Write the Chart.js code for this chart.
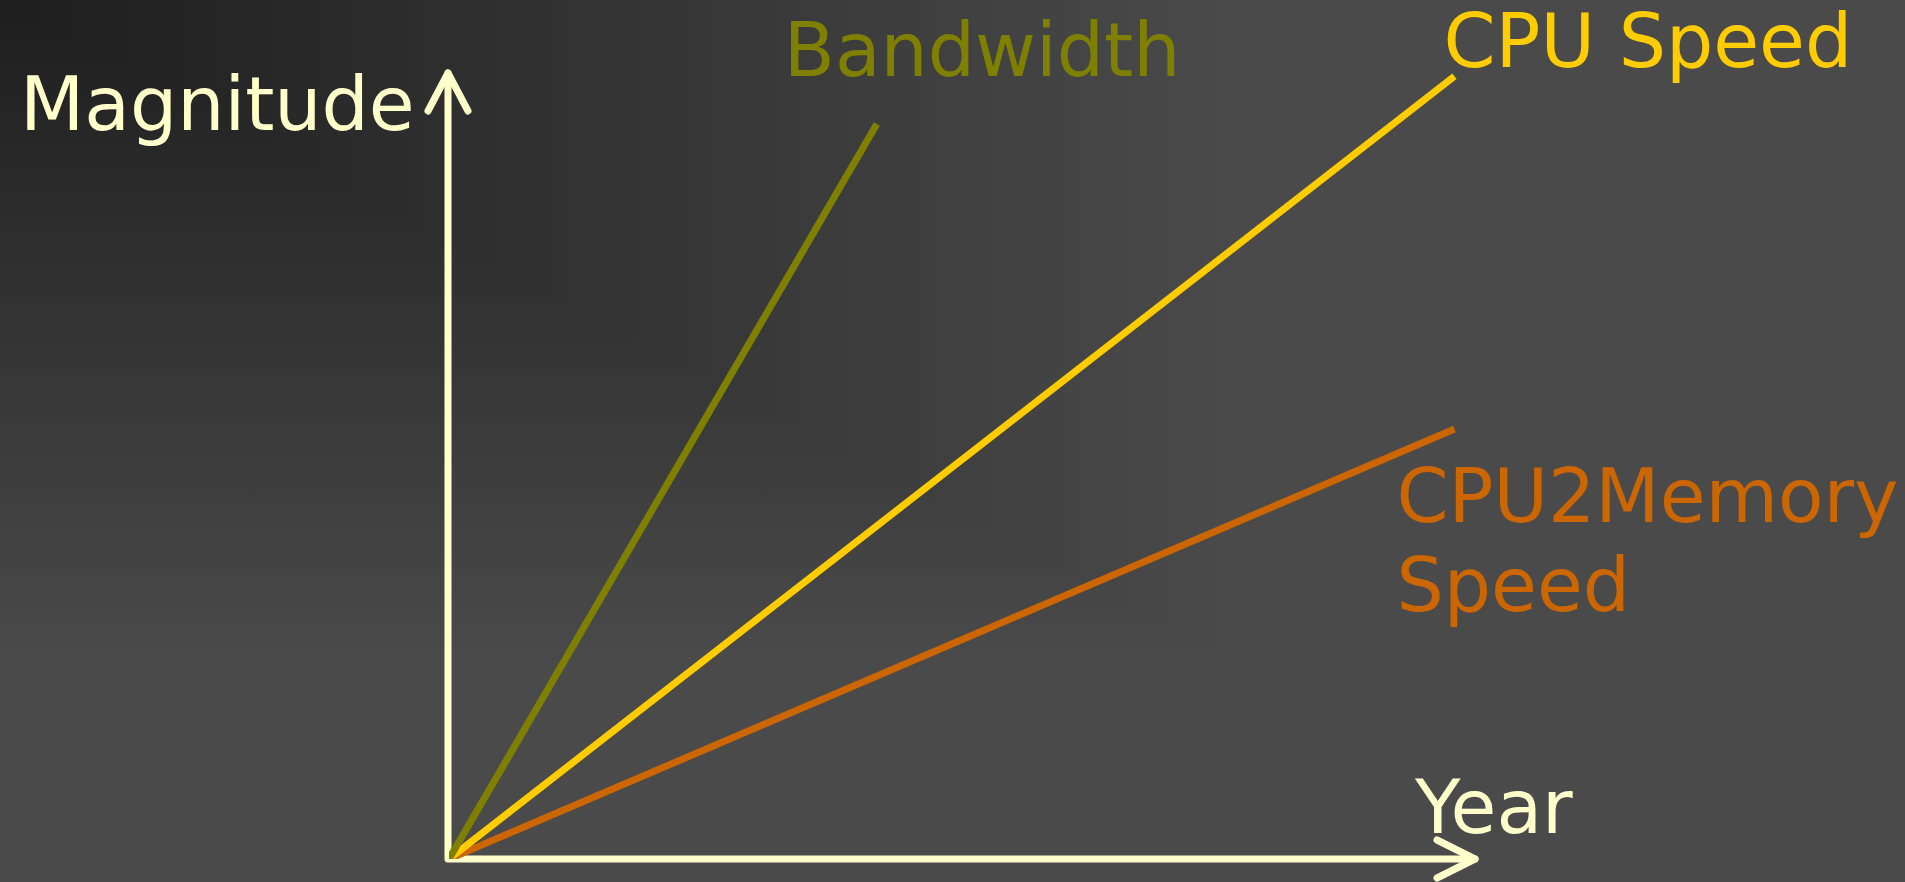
<!DOCTYPE html>
<html>
<head>
<meta charset="utf-8">
<script src="https://cdn.jsdelivr.net/npm/chart.js@4"></script>
<style>
  html, body { margin: 0; padding: 0; overflow: hidden; }
  body {
    width: 1905px; height: 882px;
    background-image:
      linear-gradient(to right, #1e1e1e 0%, #4a4a4a 65%),
      linear-gradient(to bottom, #1e1e1e 0%, #4a4a4a 75%);
    background-blend-mode: lighten;
  }
  #wrap { position: relative; width: 1905px; height: 882px; }
</style>
</head>
<body>
<div id="wrap"><canvas id="chart"></canvas></div>
<script>
// series: [start, end] of each trend, as {Year, Magnitude}
const seriesNames = ["Bandwidth", "CPU Speed", "CPU2Memory Speed"];
const bandwidthX = [0, 41.7];
const bandwidthY = [0, 93.5];
const cpuSpeedX = [0, 98];
const cpuSpeedY = [0, 99.6];
const cpuMemX = [0, 98];
const cpuMemY = [0, 54.7];
const axisTitles = ["Year", "Magnitude"];

const axisColor = "#ffffcc";
const font = "74.5px 'DejaVu Sans'";

function pts(xs, ys) {
  return xs.map((x, i) => ({ x, y: ys[i] }));
}

// axes with arrows + text labels
const decor = {
  id: "decor",
  beforeDatasetsDraw(chart) {
    const ctx = chart.ctx;
    const x = chart.scales.x, y = chart.scales.y;
    const x0 = x.getPixelForValue(0), x1 = x.getPixelForValue(x.max);
    const y0 = y.getPixelForValue(0), y1 = y.getPixelForValue(y.max);
    ctx.save();
    ctx.strokeStyle = axisColor;
    ctx.lineWidth = 7;
    ctx.lineCap = "round";
    ctx.lineJoin = "round";
    ctx.beginPath();
    ctx.moveTo(x0 - 1, y1);
    ctx.lineTo(x0 - 1, y0);
    ctx.lineTo(x1, y0);
    ctx.stroke();
    // arrowheads
    ctx.beginPath();
    ctx.moveTo(x0 - 21, y1 + 38);
    ctx.lineTo(x0 - 1, y1);
    ctx.lineTo(x0 + 19, y1 + 38);
    ctx.moveTo(x1 - 38, y0 - 19);
    ctx.lineTo(x1, y0);
    ctx.lineTo(x1 - 38, y0 + 19);
    ctx.stroke();
    ctx.restore();
  },
  afterDatasetsDraw(chart) {
    const ctx = chart.ctx;
    const x = chart.scales.x, y = chart.scales.y;
    const x0 = x.getPixelForValue(0), x1 = x.getPixelForValue(x.max);
    const y0 = y.getPixelForValue(0), y1 = y.getPixelForValue(y.max);
    ctx.save();
    ctx.font = font;
    ctx.textBaseline = "alphabetic";
    ctx.textAlign = "left";
    ctx.fillStyle = axisColor;
    ctx.fillText(axisTitles[1], 20, y1 + 57);
    ctx.fillText(axisTitles[0], x1 - 60, y0 - 26);

    chart.data.datasets.forEach((ds, i) => {
      const end = ds.data[ds.data.length - 1];
      const px = x.getPixelForValue(end.x), py = y.getPixelForValue(end.y);
      ctx.fillStyle = ds.borderColor;
      if (i === 0) {
        ctx.fillText(ds.label, px - 93, py - 48);
      } else if (i === 1) {
        ctx.fillText(ds.label, px - 11, py - 9);
      } else {
        const words = ds.label.split(" ");
        ctx.fillText(words[0], px - 58, py + 93);
        ctx.fillText(words[1], px - 58, py + 182);
      }
    });
    ctx.restore();
  }
};

new Chart(document.getElementById("chart"), {
  type: "line",
  data: {
    datasets: [
      { label: seriesNames[0], data: pts(bandwidthX, bandwidthY), borderColor: "#808000" },
      { label: seriesNames[1], data: pts(cpuSpeedX, cpuSpeedY), borderColor: "#ffcc00" },
      { label: seriesNames[2], data: pts(cpuMemX, cpuMemY), borderColor: "#cc6600" }
    ]
  },
  options: {
    responsive: true,
    maintainAspectRatio: false,
    animation: false,
    layout: { padding: { left: 449, right: 430, top: 73, bottom: 23 } },
    elements: {
      line: { borderWidth: 7, tension: 0 },
      point: { radius: 0 }
    },
    scales: {
      x: { type: "linear", min: 0, max: 100, display: false },
      y: { type: "linear", min: 0, max: 100, display: false }
    },
    plugins: {
      legend: { display: false },
      tooltip: { enabled: false }
    }
  },
  plugins: [decor]
});
</script>
</body>
</html>
